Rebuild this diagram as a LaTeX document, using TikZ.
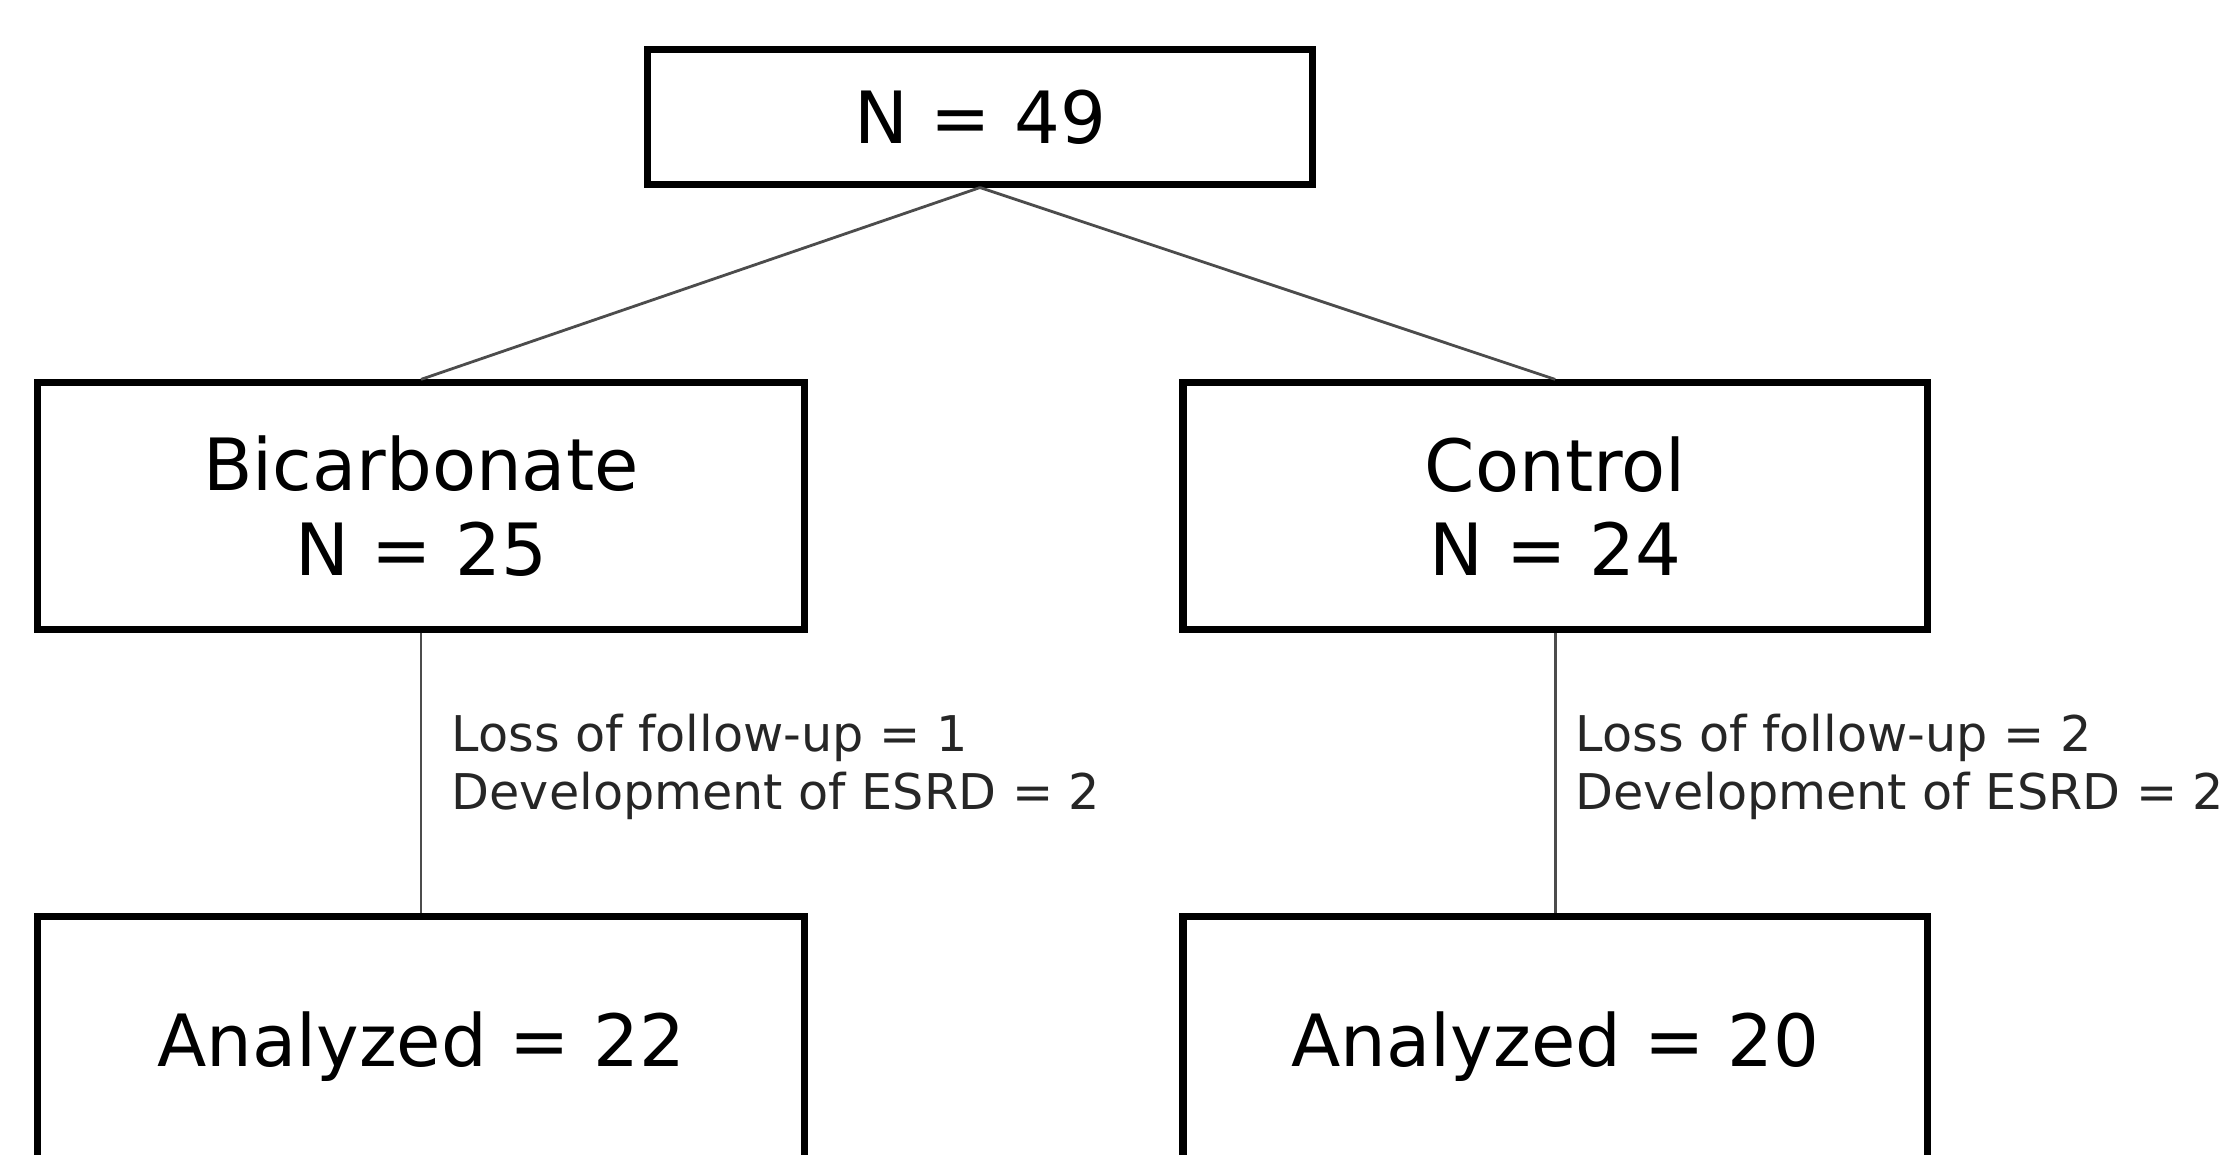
\documentclass[tikz,border=0pt]{standalone}
\usepackage{fontspec}
\setmainfont{DejaVu Sans}
\usetikzlibrary{positioning}

\begin{document}
\begin{tikzpicture}[x=0.01cm, y=-0.01cm,
        every node/.style={font=\fontsize{20.5}{24}\selectfont},
        every edge/.style={draw=black!70, line width=0.8pt},
        groupbox/.style={draw=black, line width=2pt, fill=white, align=center, inner sep=0pt},
        droplabel/.style={font=\fontsize{14}{16.5}\selectfont, align=left, inner sep=0pt, text=black!85},]

        \useasboundingbox (0, 0) rectangle (2225, 1155);
        \clip (0, 0) rectangle (2225, 1155);

        \node[groupbox, minimum width=6.65cm, minimum height=1.34cm] (total) at (980, 117) {N = 49};

        \node[groupbox, minimum width=7.67cm, minimum height=2.46cm] (bic) at (421, 506) {Bicarbonate\\N = 25};
        \node[groupbox, minimum width=7.44cm, minimum height=2.46cm] (ctrl) [right=3.71cm of bic] {Control\\N = 24};

        \node[groupbox, minimum width=7.67cm, minimum height=2.6cm] (bicdone) [below=2.8cm of bic] {Analyzed = 22};
        \node[groupbox, minimum width=7.44cm, minimum height=2.6cm] (ctrldone) [below=2.8cm of ctrl] {Analyzed = 20};

        \node[droplabel, anchor=west] (biclost) at (451, 767) {Loss of follow-up = 1\\Development of ESRD = 2};
        \node[droplabel, anchor=west] (ctrllost) at (1575, 767) {Loss of follow-up = 2\\Development of ESRD = 2};

        \path (total.south) edge [] (bic.north);
        \path (total.south) edge [] (ctrl.north);
        \path (bic.south) edge [] (bicdone.north);
        \path (ctrl.south) edge [] (ctrldone.north);

    \end{tikzpicture}
\end{document}
